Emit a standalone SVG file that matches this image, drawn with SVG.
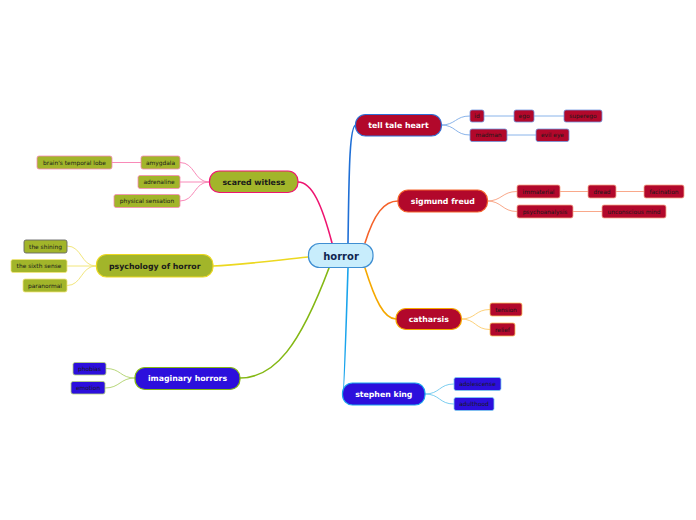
<svg xmlns="http://www.w3.org/2000/svg" width="696" height="520" viewBox="0 0 696 520">
<style>
text{font-family:"DejaVu Sans","Noto Sans",sans-serif;text-anchor:middle}
.mt{font-size:7.8px;font-weight:bold;fill:#ffffff}
.md{font-size:7.8px;font-weight:bold;fill:#1a1a1a}
.ct{font-size:5.9px;fill:#1a1a1a}
.red{fill:#b2082b}
.blu{fill:#2c0fdc}
.olv{fill:#a2b52a}
.c{fill:none;stroke-linecap:round}
</style>
<rect width="696" height="520" fill="#ffffff"/>
<g id="connectors">
<path class="c" d="M348,243 C349,180 349,125 356,125" stroke="#1f6fd6" stroke-width="1.6"/>
<path class="c" d="M332,243 C322,205 312,182 298,182" stroke="#ee1470" stroke-width="1.6"/>
<path class="c" d="M365,243 C374,214 384,201 398,201" stroke="#f5622a" stroke-width="1.6"/>
<path class="c" d="M308,257 C270,261 240,265 213,266" stroke="#ecd820" stroke-width="1.6"/>
<path class="c" d="M329,268 C300,345 275,378 240,378" stroke="#84b814" stroke-width="1.6"/>
<path class="c" d="M348,268 C346,330 344,394 343,394" stroke="#1aa4ec" stroke-width="1.6"/>
<path class="c" d="M365,268 C375,300 384,319 396,319" stroke="#f5a800" stroke-width="1.6"/>
<g stroke="#8ab4ea" stroke-width="1" fill="none">
<path d="M441,125 C456,125 455,116 470,116"/>
<path d="M441,125 C456,125 455,135 470,135"/>
<path d="M484,116 H514 M534,116 H564 M507,135 H536"/>
</g>
<g stroke="#f9a88a" stroke-width="1" fill="none">
<path d="M487,201 C502,201 502,191.5 517,191.5"/>
<path d="M487,201 C502,201 502,211.5 517,211.5"/>
<path d="M560,191.5 H588 M616,191.5 H644 M573,211.5 H602"/>
</g>
<g stroke="#fdd17a" stroke-width="1" fill="none">
<path d="M461,319 C476,319 475,309.5 490,309.5"/>
<path d="M461,319 C476,319 475,329.5 490,329.5"/>
</g>
<g stroke="#7ccef0" stroke-width="1" fill="none">
<path d="M425,394 C440,394 439,384 454,384"/>
<path d="M425,394 C440,394 439,404 454,404"/>
</g>
<g stroke="#f98ab8" stroke-width="1" fill="none">
<path d="M209,182 C194,182 195,162.5 180,162.5"/>
<path d="M209,182 H180"/>
<path d="M209,182 C194,182 195,201 180,201"/>
<path d="M141,162.5 H112"/>
</g>
<g stroke="#f2e67a" stroke-width="1" fill="none">
<path d="M96,266 C81,266 82,246 67,246"/>
<path d="M96,266 H67"/>
<path d="M96,266 C81,266 82,285.5 67,285.5"/>
</g>
<g stroke="#b8d77a" stroke-width="1" fill="none">
<path d="M135,378 C120,378 121,368.5 106,368.5"/>
<path d="M135,378 C120,378 120,388 105,388"/>
</g>
</g>
<g id="horror"><rect x="308.5" y="243.5" width="64.5" height="24" rx="11" fill="#c8edfc" stroke="#3f8fd2" stroke-width="1.2"/><text x="341" y="259.6" style="font-size:10px;font-weight:bold;fill:#0f2550">horror</text></g>
<g id="tell-tale-heart"><rect x="355.5" y="114.5" width="86" height="21.5" rx="10" class="red" stroke="#2f6fd6" stroke-width="1.2"/><text class="mt" x="398.5" y="128">tell tale heart</text></g>
<g id="id"><rect x="470" y="110" width="14" height="12" rx="2" class="red" stroke="#6f96e0" stroke-width="0.8"/><text class="ct" x="477" y="118">id</text></g>
<g id="ego"><rect x="514" y="110" width="20" height="12" rx="2" class="red" stroke="#6f96e0" stroke-width="0.8"/><text class="ct" x="524" y="118">ego</text></g>
<g id="superego"><rect x="564" y="110" width="38" height="12" rx="2" class="red" stroke="#6f96e0" stroke-width="0.8"/><text class="ct" x="583" y="118">superego</text></g>
<g id="madman"><rect x="470" y="129" width="37" height="12.5" rx="2" class="red" stroke="#6f96e0" stroke-width="0.8"/><text class="ct" x="488.5" y="137.3">madman</text></g>
<g id="evil-eye"><rect x="536" y="129" width="33" height="12.5" rx="2" class="red" stroke="#6f96e0" stroke-width="0.8"/><text class="ct" x="552.5" y="137.3">evil eye</text></g>
<g id="sigmund-freud"><rect x="398" y="190" width="89.5" height="22" rx="10" class="red" stroke="#f5622a" stroke-width="1.2"/><text class="mt" x="442.8" y="203.8">sigmund freud</text></g>
<g id="immaterial"><rect x="517" y="185" width="43" height="13" rx="2" class="red" stroke="#f9a88a" stroke-width="0.8"/><text class="ct" x="538.5" y="193.6">immaterial</text></g>
<g id="dread"><rect x="588" y="185" width="28" height="13" rx="2" class="red" stroke="#f9a88a" stroke-width="0.8"/><text class="ct" x="602" y="193.6">dread</text></g>
<g id="facination"><rect x="644" y="185" width="40" height="13" rx="2" class="red" stroke="#f9a88a" stroke-width="0.8"/><text class="ct" x="664" y="193.6">facination</text></g>
<g id="psychoanalysis"><rect x="517" y="205" width="56" height="13" rx="2" class="red" stroke="#f9a88a" stroke-width="0.8"/><text class="ct" x="545" y="213.6">psychoanalysis</text></g>
<g id="unconscious-mind"><rect x="602" y="205" width="64" height="13" rx="2" class="red" stroke="#f9a88a" stroke-width="0.8"/><text class="ct" x="634" y="213.6">unconscious mind</text></g>
<g id="catharsis"><rect x="396" y="308.5" width="65.5" height="21" rx="10" class="red" stroke="#f5a800" stroke-width="1.2"/><text class="mt" x="428.8" y="321.8">catharsis</text></g>
<g id="tension"><rect x="490" y="303" width="32" height="13" rx="2" class="red" stroke="#fdc05a" stroke-width="0.8"/><text class="ct" x="506" y="311.6">tension</text></g>
<g id="relief"><rect x="490" y="323" width="25" height="13" rx="2" class="red" stroke="#fdc05a" stroke-width="0.8"/><text class="ct" x="502.5" y="331.6">relief</text></g>
<g id="stephen-king"><rect x="342.5" y="383" width="82.5" height="22" rx="10" class="blu" stroke="#1aa4ec" stroke-width="1.2"/><text class="mt" x="383.8" y="396.8">stephen king</text></g>
<g id="adolescense"><rect x="454" y="377.5" width="47" height="13" rx="2" class="blu" stroke="#7ccef0" stroke-width="0.8"/><text class="ct" x="477.5" y="386.1">adolescense</text></g>
<g id="adulthood"><rect x="454" y="397.5" width="40" height="13" rx="2" class="blu" stroke="#7ccef0" stroke-width="0.8"/><text class="ct" x="474" y="406.1">adulthood</text></g>
<g id="scared-witless"><rect x="209.5" y="171" width="88.5" height="21.5" rx="10" class="olv" stroke="#ee1470" stroke-width="1.2"/><text class="md" x="253.8" y="184.5">scared witless</text></g>
<g id="amygdala"><rect x="141" y="156" width="39" height="13" rx="2" class="olv" stroke="#f98ab8" stroke-width="0.8"/><text class="ct" x="160.5" y="164.6">amygdala</text></g>
<g id="brains-temporal-lobe"><rect x="37" y="156" width="75" height="13" rx="2" class="olv" stroke="#f98ab8" stroke-width="0.8"/><text class="ct" x="74.5" y="164.6">brain's temporal lobe</text></g>
<g id="adrenaline"><rect x="138" y="175.5" width="42" height="13" rx="2" class="olv" stroke="#f98ab8" stroke-width="0.8"/><text class="ct" x="159" y="184.1">adrenaline</text></g>
<g id="physical-sensation"><rect x="114" y="194.5" width="66" height="13" rx="2" class="olv" stroke="#f98ab8" stroke-width="0.8"/><text class="ct" x="147" y="203.1">physical sensation</text></g>
<g id="psychology-of-horror"><rect x="96.5" y="254.5" width="116.5" height="22.5" rx="10" class="olv" stroke="#ecd820" stroke-width="1.2"/><text class="md" x="154.8" y="268.6">psychology of horror</text></g>
<g id="the-shining"><rect x="24" y="240" width="43" height="13" rx="2" class="olv" stroke="#666666" stroke-width="0.9"/><text class="ct" x="45.5" y="248.6">the shining</text></g>
<g id="the-sixth-sense"><rect x="11" y="259.5" width="56" height="13" rx="2" class="olv" stroke="#f2e67a" stroke-width="0.8"/><text class="ct" x="39" y="268.1">the sixth sense</text></g>
<g id="paranormal"><rect x="23" y="279" width="44" height="13" rx="2" class="olv" stroke="#f2e67a" stroke-width="0.8"/><text class="ct" x="45" y="287.6">paranormal</text></g>
<g id="imaginary-horrors"><rect x="135" y="367.5" width="105" height="22" rx="10" class="blu" stroke="#84b814" stroke-width="1.2"/><text class="mt" x="187.5" y="381.3">imaginary horrors</text></g>
<g id="phobias"><rect x="73" y="362.5" width="33" height="12.5" rx="2" class="blu" stroke="#b8d77a" stroke-width="0.8"/><text class="ct" x="89.5" y="370.8">phobias</text></g>
<g id="emotion"><rect x="71" y="381.5" width="34" height="12.5" rx="2" class="blu" stroke="#b8d77a" stroke-width="0.8"/><text class="ct" x="88" y="389.8">emotion</text></g>
</svg>
